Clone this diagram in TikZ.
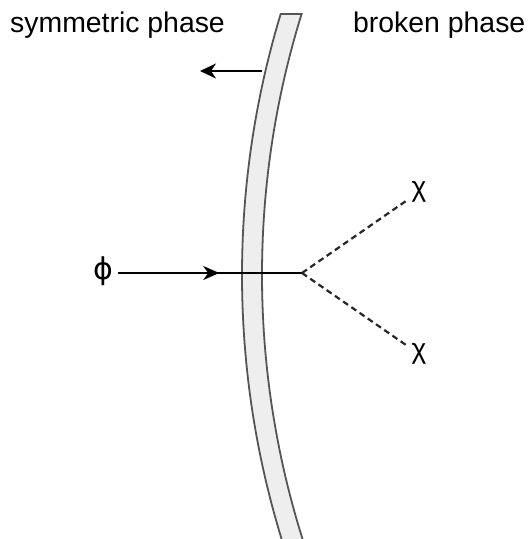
\documentclass[tikz,border=0pt]{standalone}
\usepackage{fontspec}
\setmainfont{Liberation Sans}
\newfontfamily\greekfont{DejaVu Sans}
\usepackage{tikz}
\usetikzlibrary{
  arrows.meta,
  positioning,
  decorations.markings
}
\definecolor{wallgray}{RGB}{85,85,85}
\definecolor{wallfill}{RGB}{238,238,238}
\tikzset{
  phaseLabel/.style={
    anchor=base west,
    inner sep=0pt,
    font=\fontsize{28.4}{34}\selectfont
  },
  particleLabel/.style={
    inner xsep=5pt,
    inner ysep=0pt,
    font=\fontsize{28}{34}\selectfont
  },
  wallEdge/.style={
    draw=wallgray,
    line width=1.8pt,
    line join=miter
  },
  wallFill/.style={
    fill=wallfill
  },
  pushArrow/.style={
    -{Stealth[length=16pt,width=15pt,inset=5pt]},
    line width=2.2pt,
    draw=black
  },
  fermionLine/.style={
    line width=2.2pt,
    draw=black,
    postaction={decorate},
    decoration={
      markings,
      mark=at position 0.55 with {\arrow{Stealth[length=16pt,width=14pt,inset=5pt]}}
    }
  },
  scalarLine/.style={
    line width=2.2pt,
    draw=black!85,
    dash pattern=on 6pt off 4pt
  }
}
\newcommand{\wallLeft}[1]{1142-100*sqrt(81-((#1-275)/100)^2)}
\newcommand{\wallRight}[1]{1142-100*sqrt(77.44-((#1-275)/100)^2)}

\begin{document}
\begin{tikzpicture}[x=1pt,y=-1pt]
  \useasboundingbox (0,0) rectangle (528,539);

  \fill[wallFill]
    plot[variable=\t, domain=14:539, samples=60] ({\wallLeft{\t}}, {\t})
    -- plot[variable=\t, domain=539:14, samples=60] ({\wallRight{\t}}, {\t})
    -- cycle;
  \draw[wallEdge]
    plot[variable=\t, domain=539:14, samples=60] ({\wallLeft{\t}}, {\t})
    -- plot[variable=\t, domain=14:539, samples=60] ({\wallRight{\t}}, {\t});

  \node[phaseLabel] (symlabel) at (10,32) {symmetric phase};
  \node[phaseLabel] (brklabel) at (353,32) {broken phase};

  \coordinate (pushstart) at (262,71);
  \coordinate (pushend) at (200,71);
  \draw[pushArrow] (pushstart) -- (pushend);

  \node[particleLabel, font=\greekfont\fontsize{30}{36}\selectfont]
    (phi) at (103,271) {ϕ};
  \coordinate (vertex) at (302,273);
  \node[particleLabel] (chiup) at (419,192) {χ};
  \node[particleLabel] (chidown) at (419,354) {χ};

  \draw[fermionLine] (phi.east |- vertex) -- (vertex);
  \draw[scalarLine] (vertex) -- (chiup);
  \draw[scalarLine] (vertex) -- (chidown);
\end{tikzpicture}
\end{document}
